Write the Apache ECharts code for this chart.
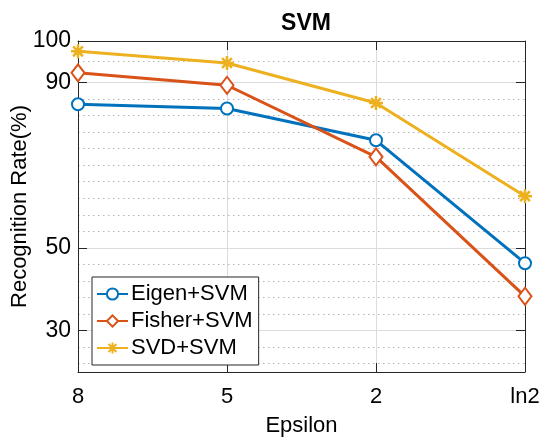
<!DOCTYPE html>
<html>
<head>
<meta charset="utf-8">
<script src="https://cdn.jsdelivr.net/npm/echarts@6/dist/echarts.min.js"></script>
<style>
html, body { margin: 0; padding: 0; background: #fff; }
#chart { width: 546px; height: 445px; }
</style>
</head>
<body>
<div id="chart"></div>
<script>
// x categories (epsilon)
var epsilon = ['8', '5', '2', 'ln2'];
// recognition rate (%)
var eigenSvm = [84.7, 83.7, 76.0, 46.3];
var fisherSvm = [92.3, 89.3, 72.0, 38.3];
var svdSvm = [97.5, 94.7, 85.0, 62.5];
// y ticks
var yTicks = [30, 50, 90, 100];
var yMinorTicks = [22, 26, 34, 38, 42, 46, 54, 58, 62, 66, 70, 74, 78, 82, 86, 95];

var FONT = 'Liberation Sans';
var AXIS_COLOR = '#262626';
var asterisk = 'path://M5,0L5,10M0,5L10,5M1.5,1.5L8.5,8.5M1.5,8.5L8.5,1.5';

var chart = echarts.init(document.getElementById('chart'));

var option = {
	animation: false,
	backgroundColor: '#fff',
	title: {
		text: 'SVM',
		left: 301,
		top: 7,
		textAlign: 'center',
		textStyle: {
			fontFamily: FONT,
			fontSize: 23,
			fontWeight: 'bold',
			color: '#000'
		}
	},
	grid: {
		left: 78,
		right: 21,
		top: 41,
		bottom: 73,
		outerBoundsMode: 'none'
	},
	legend: {
		orient: 'vertical',
		left: 92,
		top: 277,
		padding: [6, 6, 6, 4],
		itemGap: 5,
		itemWidth: 31,
		itemHeight: 14,
		backgroundColor: '#fff',
		borderColor: AXIS_COLOR,
		borderWidth: 1,
		borderRadius: 0,
		selectedMode: false,
		textStyle: {
			fontFamily: FONT,
			fontSize: 22,
			color: '#000',
			padding: [0, 0, 0, -2]
		},
		data: ['Eigen+SVM', 'Fisher+SVM', 'SVD+SVM']
	},
	xAxis: [{
		type: 'category',
		data: epsilon,
		boundaryGap: false,
		name: 'Epsilon',
		nameLocation: 'middle',
		nameGap: 43,
		nameMoveOverlap: false,
		nameTextStyle: { fontFamily: FONT, fontSize: 22, color: '#000' },
		axisLine: { lineStyle: { color: AXIS_COLOR, width: 1 } },
		axisTick: { inside: true, length: 9, lineStyle: { color: AXIS_COLOR } },
		axisLabel: { margin: 14, fontFamily: FONT, fontSize: 22, color: '#000' },
		splitLine: { show: true, lineStyle: { color: '#dcdcdc', width: 1 } }
	}, {
		type: 'category',
		data: epsilon,
		boundaryGap: false,
		position: 'top',
		axisLine: { lineStyle: { color: AXIS_COLOR, width: 1 } },
		axisTick: { inside: true, length: 9, lineStyle: { color: AXIS_COLOR } },
		axisLabel: { show: false },
		splitLine: { show: false }
	}],
	yAxis: [{
		type: 'value',
		min: 20,
		max: 100,
		name: 'Recognition Rate(%)',
		nameLocation: 'middle',
		nameGap: 47,
		nameMoveOverlap: false,
		nameTextStyle: { fontFamily: FONT, fontSize: 22, color: '#000' },
		axisLine: { show: true, lineStyle: { color: AXIS_COLOR, width: 1 } },
		axisTick: { show: true, inside: true, length: 9, customValues: yTicks, lineStyle: { color: AXIS_COLOR } },
		axisLabel: { margin: 7, customValues: yTicks, fontFamily: FONT, fontSize: 23, color: '#000' },
		splitLine: { show: true, lineStyle: { color: '#dcdcdc', width: 1 } }
	}, {
		type: 'value',
		min: 20,
		max: 100,
		position: 'right',
		axisLine: { show: true, lineStyle: { color: AXIS_COLOR, width: 1 } },
		axisTick: { show: true, inside: true, length: 9, customValues: yTicks, lineStyle: { color: AXIS_COLOR } },
		axisLabel: { show: false },
		splitLine: { show: false }
	}, {
		// minor grid
		type: 'value',
		min: 20,
		max: 100,
		position: 'left',
		axisLine: { show: false },
		axisTick: { show: false, customValues: yMinorTicks },
		axisLabel: { show: false },
		splitLine: { show: true, lineStyle: { color: '#b4b4b4', width: 1, type: [1.5, 3.5] } }
	}],
	series: [{
		name: 'Eigen+SVM',
		type: 'line',
		data: eigenSvm,
		symbol: 'emptyCircle',
		symbolSize: 12,
		color: '#0072BD',
		lineStyle: { width: 3 },
		itemStyle: { borderWidth: 3 },
		z: 3
	}, {
		name: 'Fisher+SVM',
		type: 'line',
		data: fisherSvm,
		symbol: 'emptyDiamond',
		symbolSize: [13, 17],
		color: '#D95319',
		lineStyle: { width: 3 },
		itemStyle: { borderWidth: 3 },
		z: 3
	}, {
		name: 'SVD+SVM',
		type: 'line',
		data: svdSvm,
		symbol: asterisk,
		symbolSize: 14,
		color: '#EDB120',
		lineStyle: { width: 3 },
		itemStyle: { color: '#EDB120', borderColor: '#EDB120', borderWidth: 2.5 },
		z: 3
	}]
};

chart.setOption(option);
</script>
</body>
</html>
